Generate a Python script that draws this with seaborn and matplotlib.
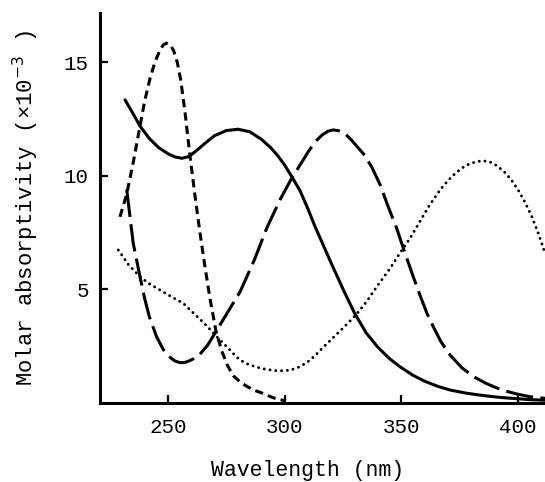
import matplotlib
matplotlib.use("Agg")
import matplotlib.pyplot as plt
import seaborn as sns
import pandas as pd

# ---- data ----
solid_x = [231.6, 235, 238, 242, 246, 250, 253, 256, 259, 262, 266, 270, 275, 280, 285, 290, 294, 297,
           300, 303, 306.6, 310, 313, 317, 320, 325, 330, 335, 340, 345, 349.4, 355, 360, 366, 371, 378,
           385, 392, 398, 405, 412]
solid_y = [13.35, 12.75, 12.2, 11.65, 11.25, 10.98, 10.84, 10.78, 10.86, 11.1, 11.45, 11.78, 12.0, 12.06,
           11.95, 11.62, 11.25, 10.9, 10.48, 9.98, 9.35, 8.55, 7.78, 6.85, 6.15, 5.02, 3.95, 3.08, 2.45,
           1.95, 1.6, 1.22, 0.96, 0.72, 0.57, 0.43, 0.33, 0.25, 0.2, 0.15, 0.12]

dash_x = [229.4, 232.3, 235.1, 238, 240, 242.3, 244.5, 246.6, 248, 249.4, 251, 252.5, 254, 255.5, 257.3,
          259.4, 261.6, 263.7, 266, 268, 270.5, 273, 275.5, 278, 281, 284, 287, 290, 293, 296, 300]
dash_y = [8.2, 9.2, 10.6, 12.2, 13.3, 14.3, 15.05, 15.55, 15.78, 15.85, 15.78, 15.5, 15.0, 14.2, 12.8,
          10.9, 9.1, 7.5, 5.9, 4.6, 3.2, 2.3, 1.65, 1.2, 0.92, 0.72, 0.56, 0.45, 0.32, 0.2, 0.1]

longdash_x = [232.3, 235.1, 238, 240, 242, 245.1, 248, 251, 253, 255.1, 257, 259, 261, 263.7, 267, 270.1,
              275, 280.9, 287, 292.3, 298, 303, 307, 310, 313, 316, 318.5, 320.7, 323, 326, 328.5, 331,
              334, 337.3, 341, 344, 348, 351.6, 355, 358, 361, 363.7, 367, 371, 376, 381, 386, 390, 395,
              399.4, 405, 412]
longdash_y = [9.4, 7.03, 5.56, 4.6, 3.8, 2.92, 2.35, 2.0, 1.85, 1.78, 1.78, 1.85, 1.95, 2.15, 2.55, 3.07,
              3.9, 4.9, 6.3, 7.7, 8.95, 9.9, 10.55, 11.05, 11.5, 11.8, 11.97, 12.03, 12.0, 11.85, 11.6,
              11.3, 10.95, 10.4, 9.6, 8.75, 7.7, 6.6, 5.6, 4.75, 3.95, 3.36, 2.7, 2.1, 1.55, 1.16, 0.88,
              0.7, 0.52, 0.4, 0.28, 0.2]

dot_x = [228.7, 233, 238, 242, 247, 252, 256.6, 260, 264, 267.5, 270.9, 274, 276, 278.5, 280.9, 284,
         288, 292, 296.6, 300, 302, 304, 306.6, 310, 313, 316, 320, 325, 330.6, 335, 340, 345, 349.4,
         354, 358, 362, 366.6, 370, 373, 376, 379, 382, 385, 388, 391, 394, 397, 400, 403, 406, 409, 411.6]
dot_y = [6.74, 6.1, 5.56, 5.25, 4.95, 4.65, 4.39, 4.05, 3.66, 3.3, 2.92, 2.6, 2.4, 2.12, 1.89, 1.72,
         1.58, 1.48, 1.42, 1.42, 1.45, 1.5, 1.6, 1.82, 2.08, 2.4, 2.8, 3.3, 3.88, 4.45, 5.2, 5.9, 6.6,
         7.3, 8.0, 8.7, 9.38, 9.8, 10.1, 10.35, 10.52, 10.63, 10.67, 10.62, 10.45, 10.2, 9.85, 9.4,
         8.85, 8.2, 7.4, 6.6]

x_ticks = [250, 300, 350, 400]
y_ticks = [5, 10, 15]
x_label = "Wavelength (nm)"
y_label = "Molar absorptivity (\u00d710$^{-3}$ )"

# ---- plot ----
sns.set_theme(style="ticks")
FONT = ["Liberation Mono", "DejaVu Sans Mono"]
plt.rcParams["font.family"] = FONT

fig = plt.figure(figsize=(5.45, 4.82), dpi=100)
ax = fig.add_axes([100 / 545, 79 / 482, 445 / 545, 390 / 482])

lw = 2.2
sns.lineplot(x=solid_x, y=solid_y, ax=ax, color="black", lw=lw, sort=False,
             linestyle="-", solid_capstyle="round", solid_joinstyle="round")
sns.lineplot(x=dash_x, y=dash_y, ax=ax, color="black", lw=lw, sort=False,
             linestyle=(0, (2.7, 1.7)), dash_capstyle="butt", dash_joinstyle="round")
sns.lineplot(x=longdash_x, y=longdash_y, ax=ax, color="black", lw=lw, sort=False,
             linestyle=(0, (9.0, 2.4)), dash_capstyle="butt", dash_joinstyle="round")
sns.lineplot(x=dot_x, y=dot_y, ax=ax, color="black", lw=lw * 0.95, sort=False,
             linestyle=(0, (0.05, 1.95)), dash_capstyle="round")

ax.set_xlim(220.85, 411.6)
ax.set_ylim(0, 17.18)
ax.set_xticks(x_ticks)
ax.set_yticks(y_ticks)
ax.set_xticklabels([str(v) for v in x_ticks])
ax.set_yticklabels([str(v) for v in y_ticks])

sns.despine(ax=ax)
for s in ["left", "bottom"]:
    ax.spines[s].set_linewidth(2.2)
    ax.spines[s].set_color("black")

ax.tick_params(axis="both", direction="in", length=6, width=1.6, colors="black",
               labelsize=15)
ax.tick_params(axis="x", pad=11)
ax.tick_params(axis="y", pad=8)

ax.set_xlabel(x_label, fontsize=15.5, color="black")
ax.set_ylabel(y_label, fontsize=16, color="black")
ax.xaxis.set_label_coords((307.5 - 100) / 445, (403 - 460) / 390)
ax.yaxis.set_label_coords((41 - 100) / 445, 0.5)

fig.savefig("out.png", dpi=100)
